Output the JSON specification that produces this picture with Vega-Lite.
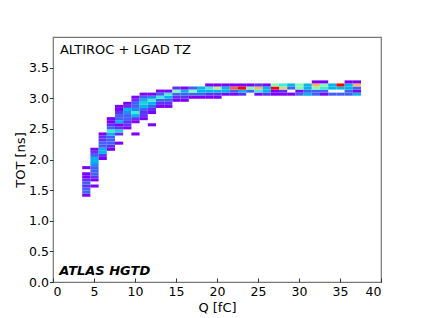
{
  "$schema": "https://vega.github.io/schema/vega-lite/v6.json",
  "width": 328,
  "height": 245,
  "autosize": {"type": "none"},
  "padding": {"left": 53, "top": 37, "right": 42, "bottom": 36},
  "background": "white",
  "config": {
    "view": {"stroke": "#777777", "strokeWidth": 1.2},
    "font": "DejaVu Sans",
    "axis": {"grid": false, "domain": false, "labelFont": "DejaVu Sans", "titleFont": "DejaVu Sans", "labelFontSize": 12.5, "titleFontSize": 13, "titleFontWeight": "normal", "labelColor": "black", "titleColor": "black", "tickColor": "#333333"}
  },
  "layer": [
    {
      "data": {"values": [
        {"q":4,"t":1.425,"n":1},{"q":4,"t":1.475,"n":3},{"q":4,"t":1.525,"n":3},{"q":4,"t":1.575,"n":2},{"q":4,"t":1.625,"n":3},{"q":4,"t":1.675,"n":2},{"q":4,"t":1.725,"n":1},{"q":4,"t":1.775,"n":1},{"q":4,"t":1.875,"n":1},
        {"q":5,"t":1.575,"n":1},{"q":5,"t":1.675,"n":1},{"q":5,"t":1.725,"n":2},{"q":5,"t":1.775,"n":3},{"q":5,"t":1.825,"n":3},{"q":5,"t":1.875,"n":3},{"q":5,"t":1.925,"n":4},{"q":5,"t":1.975,"n":5},{"q":5,"t":2.025,"n":5},{"q":5,"t":2.075,"n":3},{"q":5,"t":2.125,"n":2},{"q":5,"t":2.175,"n":1},
        {"q":6,"t":2.025,"n":1},{"q":6,"t":2.075,"n":2},{"q":6,"t":2.125,"n":5},{"q":6,"t":2.175,"n":5},{"q":6,"t":2.225,"n":3},{"q":6,"t":2.275,"n":3},{"q":6,"t":2.325,"n":2},{"q":6,"t":2.375,"n":2},{"q":6,"t":2.425,"n":1},
        {"q":7,"t":2.175,"n":1},{"q":7,"t":2.225,"n":2},{"q":7,"t":2.275,"n":3},{"q":7,"t":2.325,"n":3},{"q":7,"t":2.375,"n":3},{"q":7,"t":2.425,"n":5},{"q":7,"t":2.475,"n":7},{"q":7,"t":2.525,"n":3},{"q":7,"t":2.575,"n":2},{"q":7,"t":2.625,"n":1},{"q":7,"t":2.675,"n":1},
        {"q":8,"t":2.275,"n":1},{"q":8,"t":2.425,"n":2},{"q":8,"t":2.475,"n":6},{"q":8,"t":2.525,"n":2},{"q":8,"t":2.575,"n":1},{"q":8,"t":2.625,"n":5},{"q":8,"t":2.675,"n":3},{"q":8,"t":2.725,"n":3},{"q":8,"t":2.775,"n":2},{"q":8,"t":2.825,"n":1},{"q":8,"t":2.875,"n":1},
        {"q":9,"t":2.525,"n":1},{"q":9,"t":2.575,"n":2},{"q":9,"t":2.625,"n":2},{"q":9,"t":2.675,"n":3},{"q":9,"t":2.725,"n":3},{"q":9,"t":2.775,"n":4},{"q":9,"t":2.825,"n":5},{"q":9,"t":2.875,"n":2},{"q":9,"t":2.925,"n":1},
        {"q":10,"t":2.425,"n":1},{"q":10,"t":2.625,"n":1},{"q":10,"t":2.675,"n":2},{"q":10,"t":2.725,"n":5},{"q":10,"t":2.775,"n":7},{"q":10,"t":2.825,"n":4},{"q":10,"t":2.875,"n":3},{"q":10,"t":2.925,"n":3},{"q":10,"t":2.975,"n":2},{"q":10,"t":3.025,"n":1},
        {"q":11,"t":2.675,"n":1},{"q":11,"t":2.725,"n":2},{"q":11,"t":2.775,"n":2},{"q":11,"t":2.825,"n":3},{"q":11,"t":2.875,"n":5},{"q":11,"t":2.925,"n":6},{"q":11,"t":2.975,"n":5},{"q":11,"t":3.025,"n":3},{"q":11,"t":3.075,"n":1},
        {"q":12,"t":2.575,"n":1},{"q":12,"t":2.775,"n":1},{"q":12,"t":2.825,"n":2},{"q":12,"t":2.875,"n":3},{"q":12,"t":2.925,"n":5},{"q":12,"t":2.975,"n":7},{"q":12,"t":3.025,"n":4},{"q":12,"t":3.075,"n":1},
        {"q":13,"t":2.875,"n":1},{"q":13,"t":2.925,"n":2},{"q":13,"t":2.975,"n":3},{"q":13,"t":3.025,"n":7},{"q":13,"t":3.075,"n":3},{"q":13,"t":3.125,"n":1},
        {"q":14,"t":2.875,"n":1},{"q":14,"t":2.925,"n":2},{"q":14,"t":2.975,"n":3},{"q":14,"t":3.025,"n":5},{"q":14,"t":3.075,"n":7},{"q":14,"t":3.125,"n":1},
        {"q":15,"t":2.975,"n":1},{"q":15,"t":3.025,"n":2},{"q":15,"t":3.075,"n":3},{"q":15,"t":3.125,"n":9},{"q":15,"t":3.175,"n":2},
        {"q":16,"t":2.975,"n":1},{"q":16,"t":3.025,"n":2},{"q":16,"t":3.075,"n":3},{"q":16,"t":3.125,"n":5},{"q":16,"t":3.175,"n":1},
        {"q":17,"t":3.025,"n":1},{"q":17,"t":3.075,"n":3},{"q":17,"t":3.125,"n":9},{"q":17,"t":3.175,"n":3},
        {"q":18,"t":3.025,"n":1},{"q":18,"t":3.075,"n":3},{"q":18,"t":3.125,"n":5},{"q":18,"t":3.175,"n":5},
        {"q":19,"t":3.025,"n":1},{"q":19,"t":3.075,"n":2},{"q":19,"t":3.125,"n":5},{"q":19,"t":3.175,"n":7},{"q":19,"t":3.225,"n":1},
        {"q":20,"t":3.025,"n":1},{"q":20,"t":3.075,"n":2},{"q":20,"t":3.125,"n":5},{"q":20,"t":3.175,"n":11},{"q":20,"t":3.225,"n":1},
        {"q":21,"t":3.075,"n":1},{"q":21,"t":3.125,"n":5},{"q":21,"t":3.175,"n":5},{"q":21,"t":3.225,"n":1},
        {"q":22,"t":3.075,"n":1},{"q":22,"t":3.125,"n":3},{"q":22,"t":3.175,"n":15},{"q":22,"t":3.225,"n":1},
        {"q":23,"t":3.075,"n":2},{"q":23,"t":3.125,"n":5},{"q":23,"t":3.175,"n":17},{"q":23,"t":3.225,"n":1},
        {"q":24,"t":3.125,"n":3},{"q":24,"t":3.175,"n":9},{"q":24,"t":3.225,"n":1},
        {"q":25,"t":3.075,"n":1},{"q":25,"t":3.125,"n":7},{"q":25,"t":3.175,"n":13},{"q":25,"t":3.225,"n":2},
        {"q":26,"t":3.075,"n":2},{"q":26,"t":3.125,"n":5},{"q":26,"t":3.175,"n":5},{"q":26,"t":3.225,"n":1},
        {"q":27,"t":3.075,"n":1},{"q":27,"t":3.125,"n":1},{"q":27,"t":3.175,"n":17},{"q":27,"t":3.225,"n":9},
        {"q":28,"t":3.075,"n":1},{"q":28,"t":3.125,"n":2},{"q":28,"t":3.175,"n":12},{"q":28,"t":3.225,"n":7},
        {"q":29,"t":3.075,"n":1},{"q":29,"t":3.175,"n":3},{"q":29,"t":3.225,"n":5},
        {"q":30,"t":3.075,"n":3},{"q":30,"t":3.125,"n":1},{"q":30,"t":3.175,"n":9},{"q":30,"t":3.225,"n":9},
        {"q":31,"t":3.075,"n":5},{"q":31,"t":3.125,"n":3},{"q":31,"t":3.175,"n":5},{"q":31,"t":3.225,"n":5},
        {"q":32,"t":3.075,"n":3},{"q":32,"t":3.125,"n":3},{"q":32,"t":3.175,"n":9},{"q":32,"t":3.225,"n":13},{"q":32,"t":3.275,"n":1},
        {"q":33,"t":3.075,"n":1},{"q":33,"t":3.125,"n":3},{"q":33,"t":3.175,"n":7},{"q":33,"t":3.225,"n":9},{"q":33,"t":3.275,"n":1},
        {"q":34,"t":3.075,"n":3},{"q":34,"t":3.175,"n":5},{"q":34,"t":3.225,"n":5},
        {"q":35,"t":3.075,"n":3},{"q":35,"t":3.175,"n":5},{"q":35,"t":3.225,"n":17},
        {"q":36,"t":3.075,"n":3},{"q":36,"t":3.125,"n":3},{"q":36,"t":3.175,"n":5},{"q":36,"t":3.225,"n":5},{"q":36,"t":3.275,"n":1},
        {"q":37,"t":3.075,"n":5},{"q":37,"t":3.125,"n":1},{"q":37,"t":3.175,"n":3},{"q":37,"t":3.225,"n":13},{"q":37,"t":3.275,"n":1}
      ]},
      "mark": {"type": "rect"},
      "encoding": {
        "x": {"field": "q", "type": "quantitative", "bin": {"step": 1, "anchor": 0.5, "extent": [0.5, 40.5], "nice": false}, "scale": {"domain": [0, 40], "nice": false, "zero": false},
              "title": "Q [fC]",
              "axis": {"values": [0,5,10,15,20,25,30,35,40], "format": "d", "tickSize": -4, "labelPadding": 7, "titleY": 29, "titleBaseline": "alphabetic"}},
        "y": {"field": "t", "type": "quantitative", "bin": {"step": 0.05, "anchor": 0, "extent": [0, 4], "nice": false}, "scale": {"domain": [0, 4], "nice": false, "zero": false},
              "title": "TOT [ns]",
              "axis": {"values": [0,0.5,1,1.5,2,2.5,3,3.5], "format": ".1f", "tickSize": 3.5, "labelPadding": 1, "titleX": -33, "titleBaseline": "middle"}},
        "color": {"aggregate": "sum", "field": "n", "type": "quantitative",
                  "scale": {"domain": [1,3,5,7,9,11,13,15,17], "range": ["#8000ff","#4062fa","#00b4ec","#40ecd4","#80ffb4","#c0ec8e","#ffb462","#ff6232","#ff0000"], "interpolate": "rgb"},
                  "legend": null}
      }
    },
    {
      "data": {"values": [{"label": "ALTIROC + LGAD TZ"}]},
      "mark": {"type": "text", "align": "left", "baseline": "alphabetic", "fontSize": 13, "font": "DejaVu Sans", "color": "black"},
      "encoding": {"text": {"field": "label"}, "x": {"datum": 0.85, "type": "quantitative"}, "y": {"datum": 3.73, "type": "quantitative"}}
    },
    {
      "data": {"values": [{"label": "ATLAS HGTD"}]},
      "mark": {"type": "text", "align": "left", "baseline": "alphabetic", "fontSize": 13, "font": "DejaVu Sans", "fontWeight": "bold", "fontStyle": "italic", "color": "black"},
      "encoding": {"text": {"field": "label"}, "x": {"datum": 0.77, "type": "quantitative"}, "y": {"datum": 0.114, "type": "quantitative"}}
    }
  ]
}
